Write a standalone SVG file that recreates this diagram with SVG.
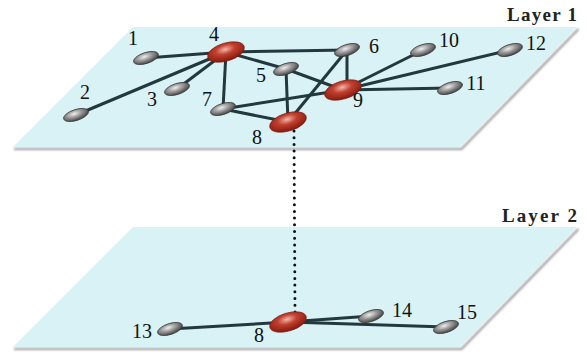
<svg xmlns="http://www.w3.org/2000/svg" width="587" height="354" viewBox="0 0 587 354">
<defs>
<radialGradient id="gGray" cx="0.45" cy="0.35" r="0.65">
<stop offset="0" stop-color="#eeeeee"/>
<stop offset="0.45" stop-color="#9a9a9a"/>
<stop offset="1" stop-color="#404040"/>
</radialGradient>
<radialGradient id="gRed" cx="0.5" cy="0.35" r="0.65">
<stop offset="0" stop-color="#f2b8aa"/>
<stop offset="0.4" stop-color="#c04030"/>
<stop offset="1" stop-color="#85180c"/>
</radialGradient>
<filter id="blur" x="-5%" y="-20%" width="110%" height="140%"><feGaussianBlur stdDeviation="1"/></filter>
</defs>
<style>
.plane{fill:#d8f2f6}
.shadow{fill:#9a9a9a;filter:url(#blur)}
.edge{stroke:#22383c;stroke-width:3;fill:none}
.dots{stroke:#111;stroke-width:3;stroke-linecap:round;stroke-dasharray:0 6.7;fill:none}
.gray{fill:url(#gGray);stroke:#333;stroke-width:0.7}
.red{fill:url(#gRed);stroke:#80180c;stroke-width:0.7}
.lbl{font-family:"Liberation Serif","Times New Roman",serif;font-size:20px;fill:#111;text-anchor:middle}
.layer{font-family:"Liberation Serif","Times New Roman",serif;font-size:19px;font-weight:bold;fill:#222}
</style>

<g id="layer1-plane">
<polygon class="shadow" points="14,148 461,148 578,28 579,30 462,150 14,150"/>
<polygon class="plane" points="133,27 577,27 460,147 13,147"/>
</g>
<g id="layer2-plane">
<polygon class="shadow" points="14,348 461,348 578,228 579,230 462,350 14,350"/>
<polygon class="plane" points="133,227 577,227 460,347 13,347"/>
</g>

<g id="connectors">
<line class="edge" x1="146" y1="58" x2="226" y2="52"/>
<line class="edge" x1="76" y1="115" x2="226" y2="52"/>
<line class="edge" x1="177" y1="89" x2="226" y2="52"/>
<line class="edge" x1="226" y1="52" x2="347" y2="50"/>
<line class="edge" x1="226" y1="52" x2="286" y2="69"/>
<line class="edge" x1="286" y1="69" x2="343" y2="90"/>
<line class="edge" x1="226" y1="52" x2="223" y2="109"/>
<line class="edge" x1="286" y1="69" x2="288" y2="122"/>
<line class="edge" x1="223" y1="109" x2="343" y2="90"/>
<line class="edge" x1="223" y1="109" x2="288" y2="122"/>
<line class="edge" x1="288" y1="122" x2="347" y2="50"/>
<line class="edge" x1="347" y1="50" x2="347" y2="88"/>
<line class="edge" x1="343" y1="90" x2="423" y2="50"/>
<line class="edge" x1="343" y1="90" x2="510" y2="50"/>
<line class="edge" x1="343" y1="90" x2="450" y2="88"/>
<line class="edge" x1="288" y1="322" x2="170" y2="329"/>
<line class="edge" x1="288" y1="322" x2="371" y2="316"/>
<line class="edge" x1="288" y1="322" x2="446" y2="327"/>
<line class="dots" x1="294" y1="131" x2="295" y2="313"/>
</g>

<g id="node1"><ellipse class="gray" cx="146" cy="58" rx="13" ry="5.5" transform="rotate(-18 146 58)"/><text class="lbl" x="133" y="45">1</text></g>
<g id="node2"><ellipse class="gray" cx="76" cy="115" rx="13" ry="5.5" transform="rotate(-18 76 115)"/><text class="lbl" x="85" y="99">2</text></g>
<g id="node3"><ellipse class="gray" cx="177" cy="89" rx="13" ry="5.5" transform="rotate(-18 177 89)"/><text class="lbl" x="152" y="106">3</text></g>
<g id="node4"><ellipse class="red" cx="226" cy="52" rx="19" ry="9" transform="rotate(-17 226 52)"/><text class="lbl" x="214" y="41">4</text></g>
<g id="node5"><ellipse class="gray" cx="286" cy="69" rx="13" ry="5.5" transform="rotate(-18 286 69)"/><text class="lbl" x="261" y="82">5</text></g>
<g id="node6"><ellipse class="gray" cx="347" cy="50" rx="13" ry="5.5" transform="rotate(-18 347 50)"/><text class="lbl" x="374" y="53">6</text></g>
<g id="node7"><ellipse class="gray" cx="223" cy="109" rx="13" ry="5.5" transform="rotate(-18 223 109)"/><text class="lbl" x="207" y="106">7</text></g>
<g id="node8"><ellipse class="red" cx="288" cy="122" rx="19" ry="9" transform="rotate(-17 288 122)"/><text class="lbl" x="257" y="144">8</text></g>
<g id="node9"><ellipse class="red" cx="343" cy="90" rx="19" ry="9" transform="rotate(-17 343 90)"/><text class="lbl" x="358" y="107">9</text></g>
<g id="node10"><ellipse class="gray" cx="423" cy="50" rx="13" ry="5.5" transform="rotate(-18 423 50)"/><text class="lbl" x="449" y="47">10</text></g>
<g id="node11"><ellipse class="gray" cx="450" cy="88" rx="13" ry="5.5" transform="rotate(-18 450 88)"/><text class="lbl" x="476" y="90">11</text></g>
<g id="node12"><ellipse class="gray" cx="510" cy="50" rx="13" ry="5.5" transform="rotate(-18 510 50)"/><text class="lbl" x="536" y="50">12</text></g>
<g id="node13"><ellipse class="gray" cx="170" cy="329" rx="13" ry="5.5" transform="rotate(-18 170 329)"/><text class="lbl" x="142" y="338">13</text></g>
<g id="node8b"><ellipse class="red" cx="288" cy="322" rx="19" ry="9" transform="rotate(-17 288 322)"/><text class="lbl" x="259" y="342">8</text></g>
<g id="node14"><ellipse class="gray" cx="371" cy="316" rx="13" ry="5.5" transform="rotate(-18 371 316)"/><text class="lbl" x="402" y="317">14</text></g>
<g id="node15"><ellipse class="gray" cx="446" cy="327" rx="13" ry="5.5" transform="rotate(-18 446 327)"/><text class="lbl" x="467" y="319">15</text></g>

<g id="labels">
<text class="layer" x="507" y="21" textLength="70" lengthAdjust="spacing">Layer 1</text>
<text class="layer" x="502" y="222" textLength="75" lengthAdjust="spacing">Layer 2</text>
</g>
</svg>
